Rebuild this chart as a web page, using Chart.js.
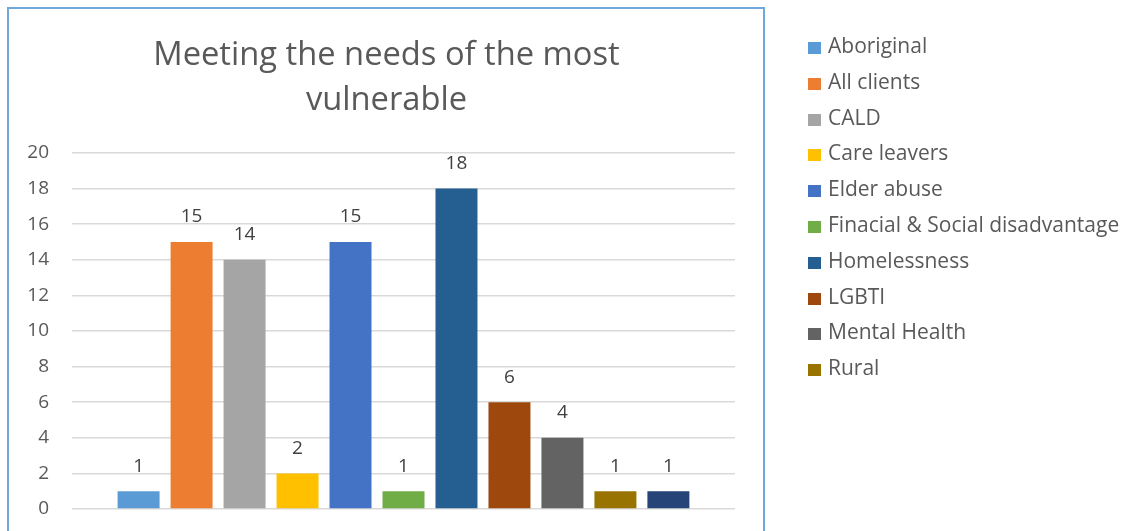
<!DOCTYPE html>
<html>
<head>
<meta charset="utf-8">
<script src="https://cdn.jsdelivr.net/npm/chart.js@4.4.1/dist/chart.umd.min.js"></script>
<style>
  html, body { margin: 0; padding: 0; background: #fff; }
  body { width: 1122px; height: 531px; overflow: hidden; position: relative; font-family: "Open Sans", sans-serif; }
  #frame { position: absolute; left: 7px; top: 7px; width: 754px; height: 600px; border: 2px solid #6fa8dc; }
  #wrap { position: absolute; left: 0; top: 0; width: 1122px; height: 531px; }
  #legend { position: absolute; left: 808px; top: 28px; margin: 0; padding: 0; list-style: none; }
  #legend li { height: 35.8px; line-height: 35.8px; font-size: 21px; color: #595959; white-space: nowrap; }
  #legend span { display: inline-block; width: 13px; height: 12px; margin-right: 7px; vertical-align: -1px; }
</style>
</head>
<body>
<div id="frame"></div>
<div id="wrap"><canvas id="chart" width="1122" height="531"></canvas></div>
<ul id="legend"></ul>
<script>
const categories = ["Aboriginal", "All clients", "CALD", "Care leavers", "Elder abuse",
  "Finacial & Social disadvantage", "Homelessness", "LGBTI", "Mental Health", "Rural", "Other"]
const counts = [1, 15, 14, 2, 15, 1, 18, 6, 4, 1, 1]
const yTicks = [0, 2, 4, 6, 8, 10, 12, 14, 16, 18, 20]
const barColors = ["#5b9bd5", "#ed7d31", "#a5a5a5", "#ffc000", "#4472c4", "#70ad47",
  "#255e91", "#9e480e", "#636363", "#997300", "#264478"]
// the original legend box only had room for the first ten entries
const legendShown = 10

const font = "'Open Sans', sans-serif"

const valueLabels = {
  id: "valueLabels",
  afterDatasetsDraw(chart) {
    const ctx = chart.ctx
    ctx.save()
    ctx.font = "19px " + font
    ctx.fillStyle = "#404040"
    ctx.textAlign = "center"
    ctx.textBaseline = "middle"
    chart.data.datasets.forEach((ds, i) => {
      chart.getDatasetMeta(i).data.forEach((bar, j) => {
        ctx.fillText(ds.data[j], bar.x, bar.y - 25)
      })
    })
    ctx.restore()
  }
}

const chart = new Chart(document.getElementById("chart"), {
  type: "bar",
  data: {
    labels: [""],
    datasets: categories.map((name, i) => ({
      label: name,
      data: [counts[i]],
      backgroundColor: barColors[i],
      categoryPercentage: 0.879,
      barPercentage: 0.7925
    }))
  },
  options: {
    responsive: false,
    animation: false,
    layout: { padding: { left: 8, right: 357, top: 0, bottom: 22 } },
    plugins: {
      legend: { display: false },
      tooltip: { enabled: false },
      title: {
        display: true,
        text: ["Meeting the needs of the most", "vulnerable"],
        color: "#595959",
        font: { family: font, size: 32.7, weight: "normal", lineHeight: 1.376 },
        padding: { top: 33.5, bottom: 29.5 }
      }
    },
    scales: {
      x: { display: false },
      y: {
        min: 0,
        max: 20,
        afterBuildTicks: (s) => { s.ticks = yTicks.map(v => ({ value: v })) },
        // keep the tick padding from pushing the plot area up from the bottom
        afterFit: (s) => { s.width = 64; s.paddingTop = 0; s.paddingBottom = 0 },
        border: { display: false },
        grid: { color: "#d9d9d9", lineWidth: 1.5, drawTicks: false },
        ticks: { color: "#595959", padding: 23, font: { family: font, size: 19 } }
      },
      pad: {
        type: "linear",
        position: "right",
        grid: { display: false },
        border: { display: false },
        ticks: { display: false },
        afterFit: (s) => { s.width = 30 }
      }
    }
  },
  plugins: [valueLabels]
})

const legend = document.getElementById("legend")
chart.data.datasets.slice(0, legendShown).forEach(ds => {
  const li = document.createElement("li")
  const sw = document.createElement("span")
  sw.style.background = ds.backgroundColor
  li.appendChild(sw)
  li.appendChild(document.createTextNode(ds.label))
  legend.appendChild(li)
})
</script>
</body>
</html>
